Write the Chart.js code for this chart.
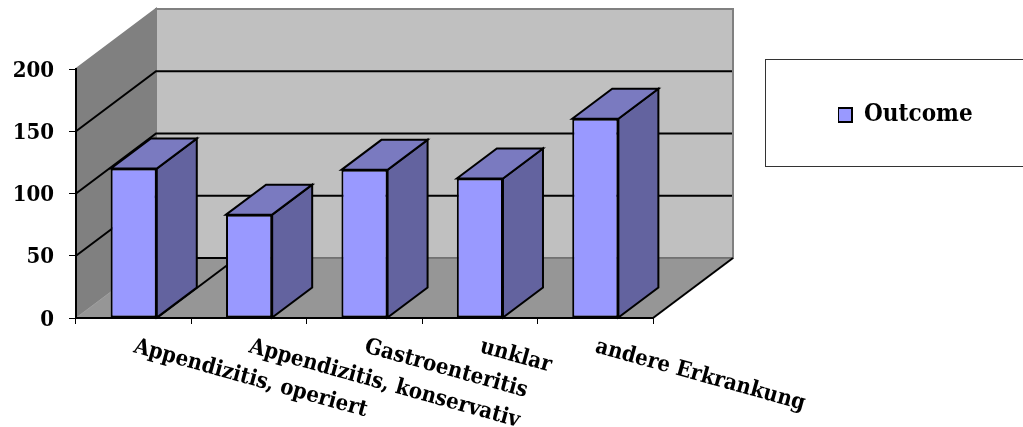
<!DOCTYPE html>
<html>
<head>
<meta charset="utf-8">
<style>html,body{margin:0;padding:0;background:#fff}#w{width:1023px;height:427px;position:relative}</style>
<script src="https://cdn.jsdelivr.net/npm/chart.js@4"></script>
</head>
<body>
<div id="w"><canvas id="c" width="1023" height="427"></canvas></div>
<script>
const categories = ["Appendizitis, operiert", "Appendizitis, konservativ", "Gastroenteritis", "unklar", "andere Erkrankung"];
const outcomeValues = [120, 83, 119, 112, 160];
const yTicks = [0, 50, 100, 150, 200];
const seriesName = "Outcome";

const WALL_DX = 80, WALL_DY = 60, BAR_DX = 40, BAR_DY = 30;
const FONT = '"DejaVu Serif Condensed", "DejaVu Serif", serif';

function line(ctx, pts, color, width) {
  ctx.beginPath();
  pts.forEach((p, i) => i ? ctx.lineTo(p[0], p[1]) : ctx.moveTo(p[0], p[1]));
  ctx.strokeStyle = color; ctx.lineWidth = width; ctx.lineCap = 'butt'; ctx.lineJoin = 'miter'; ctx.stroke();
}
function poly(ctx, pts, fill, stroke, width) {
  ctx.beginPath();
  pts.forEach((p, i) => i ? ctx.lineTo(p[0], p[1]) : ctx.moveTo(p[0], p[1]));
  ctx.closePath();
  ctx.fillStyle = fill; ctx.fill();
  if (stroke) { ctx.strokeStyle = stroke; ctx.lineWidth = width; ctx.lineJoin = 'miter'; ctx.stroke(); }
}

const walls = {
  id: 'walls',
  beforeDraw(chart) {
    const ctx = chart.ctx, a = chart.chartArea, y = chart.scales.y;
    const L = a.left, R = a.right, T = y.getPixelForValue(200), B = y.getPixelForValue(0);
    const dx = WALL_DX, dy = WALL_DY;
    ctx.save();
    poly(ctx, [[L + dx, T - dy], [R + dx, T - dy], [R + dx, B - dy], [L + dx, B - dy]], '#c0c0c0', '#808080', 2);
    poly(ctx, [[L, T], [L + dx, T - dy], [L + dx, B - dy], [L, B]], '#808080', '#808080', 2);
    poly(ctx, [[L, B], [R, B], [R + dx, B - dy], [L + dx, B - dy]], '#969696', null, 0);
    line(ctx, [[L, B], [L + dx, B - dy]], '#a0a0a0', 1);
    line(ctx, [[L + dx, B - dy], [R + dx, B - dy]], '#6e6e6e', 1.5);
    line(ctx, [[R, B], [R + dx, B - dy]], '#000', 2);
    yTicks.slice(1, -1).forEach(v => {
      const p = y.getPixelForValue(v);
      line(ctx, [[L, p], [L + dx, p - dy], [R + dx - 1, p - dy]], '#000', 2);
    });
    ctx.restore();
  },
  beforeDatasetsDraw(chart) {
    const ctx = chart.ctx, bars = chart.getDatasetMeta(0).data, y0 = chart.scales.y.getPixelForValue(0);
    ctx.save();
    // dark floor edges seen between the first two bars
    const first = bars[0], right1 = first.x + first.width / 2;
    line(ctx, [[right1, y0], [right1 + WALL_DX, y0 - WALL_DY]], '#000', 2);
    line(ctx, [[right1, y0 - WALL_DY], [bars[1].x, y0 - WALL_DY]], '#000', 2);
    bars.forEach(b => {
      const l = b.x - b.width / 2, r = b.x + b.width / 2, t = b.y, bt = b.base;
      poly(ctx, [[r, t], [r + BAR_DX, t - BAR_DY], [r + BAR_DX, bt - BAR_DY], [r, bt]], '#63639f', '#000', 2);
      poly(ctx, [[l, t], [l + BAR_DX, t - BAR_DY], [r + BAR_DX, t - BAR_DY], [r, t]], '#7a7ac0', '#000', 2);
    });
    ctx.restore();
  },
  afterDraw(chart) {
    const ctx = chart.ctx, x = chart.scales.x;
    ctx.save();
    ctx.font = 'bold 22px ' + FONT;
    ctx.fillStyle = '#000';
    ctx.textAlign = 'left';
    ctx.textBaseline = 'alphabetic';
    categories.forEach((c, i) => {
      ctx.save();
      ctx.translate(x.getPixelForValue(i) - 1, 352);
      ctx.rotate(15.5 * Math.PI / 180);
      ctx.fillText(c, 0, 0);
      ctx.restore();
    });
    ctx.strokeStyle = '#333';
    ctx.lineWidth = 1;
    ctx.strokeRect(765.5, 59.5, 300, 107);
    ctx.restore();
  },
  afterLayout(chart) {
    const lg = chart.legend;
    lg.left = 838; lg.right = 1023; lg.top = 103; lg.bottom = 133;
    lg.width = 185; lg.height = 30;
  }
};

new Chart(document.getElementById('c'), {
  type: 'bar',
  data: {
    labels: categories,
    datasets: [{
      label: seriesName,
      data: outcomeValues,
      backgroundColor: '#9999ff',
      borderColor: '#000',
      borderWidth: 2,
      borderSkipped: false,
      barPercentage: 0.8,
      categoryPercentage: 0.5
    }]
  },
  options: {
    responsive: false,
    animation: false,
    layout: { padding: { left: 0, right: 370, top: 69, bottom: 0 } },
    scales: {
      x: {
        afterFit(s) { s.height = 109; },
        grid: { drawOnChartArea: false, drawTicks: true, tickLength: 6, color: '#000', lineWidth: 1 },
        border: { color: '#000', width: 2 },
        ticks: { display: false }
      },
      y: {
        min: 0, max: 200,
        afterFit(s) { s.width = 76; },
        afterBuildTicks(s) { s.ticks = yTicks.map(v => ({ value: v })); },
        grid: { drawOnChartArea: false, drawTicks: true, tickLength: 7, color: '#000', lineWidth: 1 },
        border: { color: '#000', width: 2 },
        ticks: { padding: 15, labelOffset: 2, color: '#000', font: { family: FONT, weight: 'bold', size: 22 } }
      }
    },
    plugins: {
      tooltip: { enabled: false },
      legend: {
        display: true,
        position: 'chartArea',
        align: 'start',
        labels: {
          boxWidth: 14, boxHeight: 14, padding: 0, color: '#000',
          font: { family: FONT, weight: 'bold', size: 24 }
        }
      }
    }
  },
  plugins: [walls]
});
</script>
</body>
</html>
